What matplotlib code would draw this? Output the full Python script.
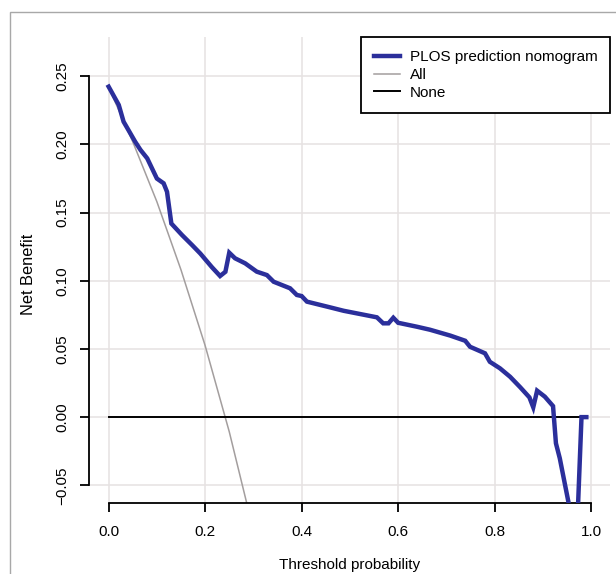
import matplotlib.pyplot as plt
from matplotlib.patches import Rectangle

plt.rcParams['font.family'] = ['Liberation Sans', 'DejaVu Sans']

# decision curve
thresholds = [0.0, 0.021, 0.031, 0.041, 0.055, 0.066, 0.08, 0.10, 0.114, 0.121,
              0.130, 0.152, 0.173, 0.19, 0.214, 0.231, 0.242, 0.250, 0.262, 0.283,
              0.307, 0.328, 0.342, 0.376, 0.390, 0.400, 0.411, 0.459, 0.487, 0.556,
              0.569, 0.580, 0.590, 0.600, 0.639, 0.666, 0.708, 0.739, 0.749, 0.780,
              0.790, 0.811, 0.832, 0.853, 0.872, 0.880, 0.888, 0.904, 0.921, 0.927,
              0.935, 0.96, 0.97, 0.98, 0.99]
nomogram_nb = [0.2424, 0.229, 0.2167, 0.2106, 0.202, 0.196, 0.1898, 0.175, 0.1715, 0.1653,
               0.142, 0.1336, 0.1262, 0.120, 0.110, 0.1035, 0.1066, 0.1206, 0.1165, 0.1128,
               0.1067, 0.1042, 0.0993, 0.0945, 0.0896, 0.0888, 0.0847, 0.0805, 0.078, 0.0732,
               0.0688, 0.0688, 0.0729, 0.0692, 0.0663, 0.0641, 0.0598, 0.056, 0.0516, 0.0468,
               0.0406, 0.0358, 0.0296, 0.0219, 0.0145, 0.0072, 0.0194, 0.0150, 0.0081, -0.0192,
               -0.0302, -0.075, -0.09, 0.0, 0.0]

all_pt = [0.0, 0.05, 0.10, 0.15, 0.20, 0.25, 0.30]
all_nb = [0.242, 0.202, 0.158, 0.108, 0.0525, -0.0107, -0.083]

none_pt = [0.0, 0.99]
none_nb = [0.0, 0.0]

xticks = [0.0, 0.2, 0.4, 0.6, 0.8, 1.0]
xlabels = ['0.0', '0.2', '0.4', '0.6', '0.8', '1.0']
yticks = [-0.05, 0.0, 0.05, 0.10, 0.15, 0.20, 0.25]
ylabels = ['\u22120.05', '0.00', '0.05', '0.10', '0.15', '0.20', '0.25']

fig = plt.figure(figsize=(6.16, 5.74), dpi=100)
# outer frame of the original figure (cropped on right / bottom)
fig.patches.append(Rectangle((9.5 / 616, -0.1), 1.2, 0.1 + (574 - 12) / 574,
                             transform=fig.transFigure, fill=False,
                             edgecolor='#a8a8a8', lw=1.0))

ax = fig.add_axes([0.145, 0.1232, 0.846, 0.8123])
ax.set_xlim(-0.04, 1.04)
ax.set_ylim(-0.0632, 0.2788)

grid_col = '#e6e2e2'
for x in xticks:
    ax.axvline(x, color=grid_col, lw=1.1, zorder=0)
for y in yticks:
    ax.axhline(y, color=grid_col, lw=1.1, zorder=0)

ax.plot(thresholds, nomogram_nb, color='#2B2F9B', lw=3.2,
        label='PLOS prediction nomogram', zorder=3, solid_joinstyle='miter')
ax.plot(all_pt, all_nb, color='#a39e9e', lw=1.1, label='All', zorder=2)
ax.plot(none_pt, none_nb, color='black', lw=1.4, label='None', zorder=2)

for side in ['top', 'right']:
    ax.spines[side].set_visible(False)
ax.spines['left'].set_bounds(-0.05, 0.25)
ax.spines['bottom'].set_bounds(0.0, 1.0)
ax.spines['left'].set_linewidth(1.3)
ax.spines['bottom'].set_linewidth(1.3)

ax.set_xticks(xticks)
ax.set_xticklabels(xlabels, fontsize=11)
ax.set_yticks(yticks)
ax.set_yticklabels(ylabels, fontsize=11, rotation=90, va='center')
ax.tick_params(axis='both', length=6.5, width=1.3, color='black')
ax.tick_params(axis='x', pad=9)
ax.tick_params(axis='y', pad=8)

ax.set_xlabel('Threshold probability', fontsize=11)
ax.set_ylabel('Net Benefit', fontsize=11.8)
ax.xaxis.set_label_coords(0.5, -0.117)
ax.yaxis.set_label_coords(-0.102, 0.49)

leg = ax.legend(loc='upper right', borderaxespad=0, fancybox=False,
                framealpha=1, edgecolor='black', fontsize=11,
                borderpad=0.86, handlelength=1.7, handletextpad=0.6,
                labelspacing=0.25)
leg.get_frame().set_linewidth(1.3)

fig.savefig('out.png', dpi=100)
